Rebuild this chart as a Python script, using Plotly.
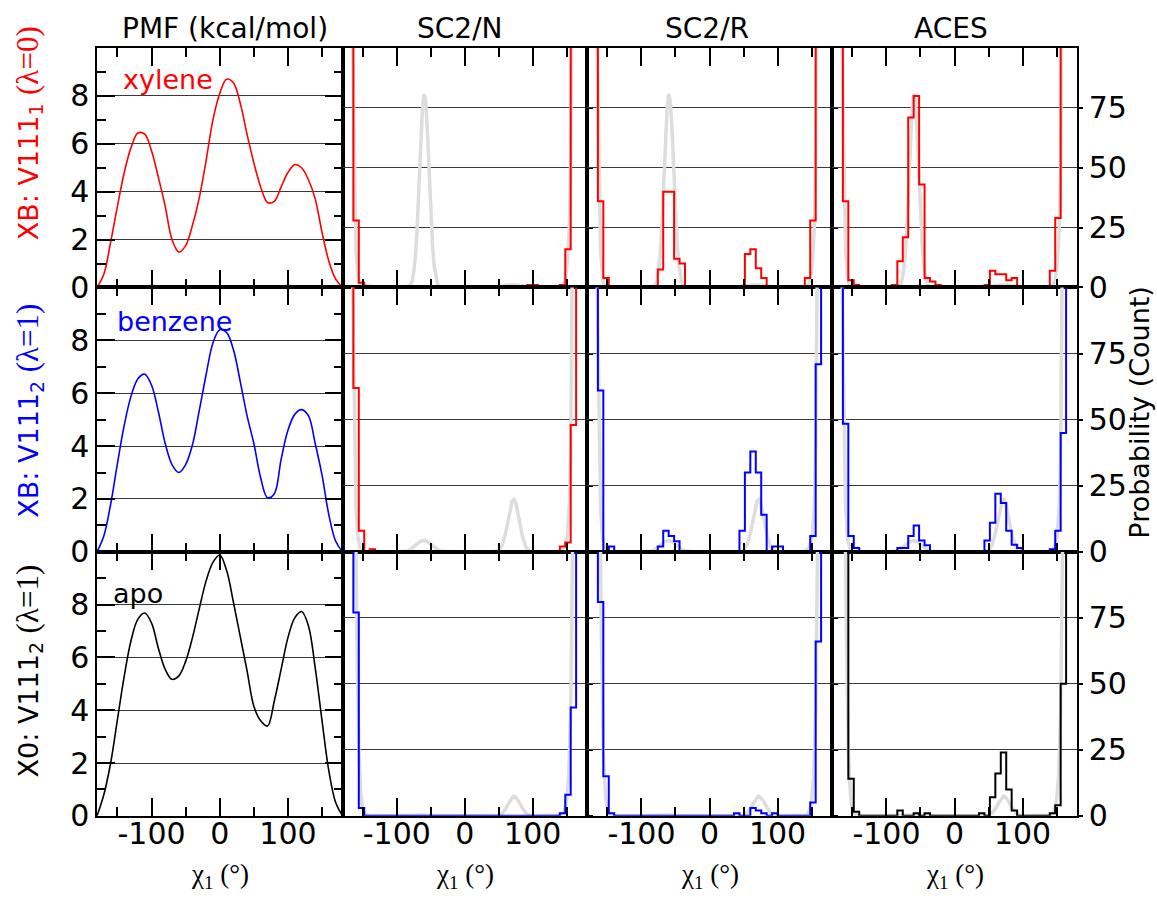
import plotly.graph_objects as go

# ---------------- data ----------------
chi_pmf = [-180, -170, -160, -150, -140, -130, -120, -110, -100, -90, -80, -70, -60, -50, -40,
           -30, -20, -10, 0, 10, 20, 30, 40, 50, 60, 70, 80, 90, 100, 110, 120, 130, 140, 150,
           160, 170, 180]
pmf_xylene = [0.0, 0.55, 1.9, 3.4, 4.8, 5.85, 6.45, 6.4, 5.7, 4.6, 3.4, 2.0, 1.48, 1.75, 2.6,
              3.75, 5.3, 7.0, 8.1, 8.7, 8.55, 7.7, 6.4, 5.2, 4.2, 3.55, 3.6, 4.2, 4.8, 5.13, 5.0,
              4.5, 3.7, 2.3, 1.1, 0.35, 0.0]
pmf_benzene = [0.0, 0.6, 1.8, 3.35, 4.8, 5.9, 6.55, 6.72, 6.3, 5.3, 4.1, 3.3, 3.0, 3.3, 4.05,
               5.35, 6.7, 7.9, 8.4, 8.3, 7.65, 6.45, 5.15, 4.1, 2.8, 2.05, 2.2, 3.5, 4.6, 5.2,
               5.38, 5.15, 4.1, 2.9, 1.4, 0.4, 0.0]
pmf_apo = [0.0, 0.8, 2.0, 3.65, 5.3, 6.65, 7.45, 7.68, 7.3, 6.35, 5.55, 5.17, 5.3, 5.85, 6.75,
           7.85, 8.9, 9.6, 9.88, 9.3, 8.1, 6.8, 5.5, 4.15, 3.6, 3.4, 4.35, 5.55, 6.75, 7.5, 7.74,
           7.2, 5.6, 3.6, 1.7, 0.5, 0.0]

# grey probability curves (one per row)
gray_xylene_x = [-180, -175, -170, -167, -165, -162, -160, -157, -155, -150, -145, -140, -100,
                 -90, -85, -80, -77.5, -75, -72.5, -70, -67.5, -65, -62.5, -60, -57.5, -55,
                 -52.5, -50, -47.5, -45, -42.5, -40, -37.5, -35, -30, 0, 40, 50, 60, 70, 80, 90,
                 100, 135, 140, 145, 148, 151, 154, 156, 158, 161, 165, 170, 180]
gray_xylene_y = [900, 500, 250, 150, 100, 35, 15, 4, 1, 0.1, 0, 0, 0,
                 0.1, 0.4, 1.0, 2.7, 6.5, 13.7, 25.4, 41.4, 59, 73.7, 80.8, 77.7, 65.4,
                 48.5, 31.4, 17.8, 8.9, 3.9, 1.5, 0.5, 0.15, 0, 0, 0, 0.3, 0.8, 1.1, 0.9, 0.3,
                 0, 0, 0.2, 1.2, 3, 10, 25, 55, 100, 200, 400, 700, 900]
gray_benzene_x = [-180, -175, -170, -165, -162, -160, -157, -154, -150, -145, -100, -90, -85,
                  -80, -75, -70, -65, -60, -55, -50, -45, -40, -35, -30, -20, 40, 45, 50, 55,
                  60, 65, 70, 72.5, 75, 80, 85, 90, 95, 100, 110, 135, 140, 145, 148, 151, 154,
                  156, 158, 161, 165, 170, 180]
gray_benzene_y = [900, 500, 250, 100, 40, 16, 5, 1.5, 0.3, 0, 0, 0.1, 0.3,
                  0.9, 1.8, 3.0, 4.0, 4.3, 3.9, 2.9, 1.7, 0.8, 0.3, 0.1, 0, 0, 0.1, 0.6, 2.4,
                  7.0, 13.9, 19.2, 19.8, 18.6, 12.4, 5.8, 1.9, 0.4, 0.05, 0, 0, 0.3, 1.2, 2.5, 6,
                  18, 40, 100, 200, 400, 700, 900]
gray_apo_x = [-180, -175, -170, -165, -162, -159, -156, -153, -150, -147, -143, -140, -100, -90,
              -80, -70, -60, -50, -40, 40, 50, 55, 60, 65, 70, 72, 75, 80, 85, 90, 95, 100, 110,
              135, 140, 145, 148, 150, 153, 156, 158, 160, 165, 170, 180]
gray_apo_y = [900, 700, 500, 250, 150, 70, 25, 8, 2, 0.5, 0.1, 0, 0, 0.1,
              0.25, 0.4, 0.35, 0.15, 0, 0, 0.2, 1.0, 2.6, 5.0, 7.1, 7.4, 7.0, 5.2, 2.8, 1.1, 0.3,
              0.05, 0, 0, 0.2, 1.0, 3, 6, 15, 40, 80, 130, 300, 600, 900]

# histogram bins (8 degree wide)
bin_edges = [-180, -172, -164, -156, -148, -140, -132, -124, -116, -108, -100, -92, -84, -76,
             -68, -60, -52, -44, -36, -28, -20, -12, -4, 4, 12, 20, 28, 36, 44, 52, 60, 68, 76,
             84, 92, 100, 108, 116, 124, 132, 140, 148, 156, 164, 172, 180]

hist_xylene_sc2n = [400, 300, 28, 2, 0.7, 0, 0, 0, 0,
                    0, 0, 0, 0, 0, 0, 0, 0, 0,
                    0, 0, 0, 0, 0, 0, 0, 0, 0,
                    0, 0, 0, 0, 0, 0, 0, 1, 1,
                    0, 0, 0, 0, 1, 16, 300, 400, 450]
hist_xylene_sc2r = [400, 300, 36, 4, 0, 0, 0, 0, 0,
                    0, 0, 0, 0, 7.5, 40, 40, 12, 10,
                    0, 0, 0, 0, 0, 0, 0, 0, 0,
                    0, 0, 14, 16, 8, 4, 0, 0, 0,
                    0, 0, 0, 0, 4, 28, 300, 400, 450]
hist_xylene_aces = [400, 300, 36, 3, 1, 0, 0, 0, 0,
                    0, 0, 1, 11, 21, 71, 80, 43, 4,
                    2.5, 1, 0, 0, 0, 0, 0, 0, 0,
                    0, 1, 7, 5.5, 5.5, 3, 4, 0, 0,
                    0, 0, 0, 0, 7, 29, 300, 400, 450]
hist_benzene_sc2n = [400, 300, 62, 8, 0, 1, 0, 0, 0,
                     0, 0, 0, 0, 0, 0, 0, 0, 0,
                     0, 0, 0, 0, 0, 0, 0, 0, 0,
                     0, 0, 0, 0, 0, 0, 0, 0, 0,
                     0, 0, 0, 0, 2, 3.5, 48, 300, 400]
hist_benzene_sc2r = [400, 300, 61, 0, 2, 0, 0, 0, 0,
                     0, 0, 0, 0, 2, 8, 6, 4, 0,
                     0, 0, 0, 0, 0, 0, 0, 0, 0,
                     0, 8, 30, 38, 30, 14, 0, 2, 2,
                     0, 0, 0, 0, 0, 6, 71, 300, 400]
hist_benzene_aces = [400, 300, 48.5, 6, 1.5, 0, 0, 0, 0,
                     0, 0, 0, 1.5, 1.5, 6, 10, 4.3, 2.5,
                     0, 0, 0, 0, 0, 0, 0, 0, 0,
                     0, 4.3, 11, 22, 18.5, 8, 2.7, 1.5, 0,
                     0, 0, 0, 0, 1, 8, 45, 300, 400]
hist_apo_sc2n = [400, 300, 77, 3, 0, 0, 0, 0, 0,
                 0, 0, 0, 0, 0, 0, 0, 0, 0,
                 0, 0, 0, 0, 0, 0, 0, 0, 0,
                 0, 0, 0, 0, 0, 0, 0, 0, 0,
                 0, 0, 0, 0, 1, 8, 41, 300, 400]
hist_apo_sc2r = [400, 300, 81, 15, 1, 0, 0, 0, 0,
                 0, 0, 0, 0, 0, 0, 0, 0, 0,
                 0, 0, 0, 0, 0, 0, 0, 0, 0,
                 1, 0, 0, 3, 2, 1, 0, 1, 0,
                 0, 0, 0, 0, 0, 5, 66, 300, 400]
hist_apo_aces = [400, 300, 300, 14, 1.5, 0, 0, 0, 0,
                 0, 0, 0, 2, 0, 0, 1, 0, 1,
                 0, 0, 0, 0, 0, 0, 0, 0, 0,
                 1, 0, 7, 16, 24, 10, 2, 0, 0,
                 0, 0, 0, 0, 1, 4, 50, 300, 400]

col_titles = ["PMF (kcal/mol)", "SC2/N", "SC2/R", "ACES"]
row_names = ["xylene", "benzene", "apo"]
row_labels = ["XB: V111<sub>1</sub> ", "XB: V111<sub>2</sub> ", "X0: V111<sub>2</sub> "]
row_lambda = ["(λ=0)", "(λ=1)", "(λ=1)"]
pmf_ticks = [0, 2, 4, 6, 8]
pmf_minor = [1, 3, 5, 7, 9]
count_ticks = [0, 25, 50, 75]
chi_ticks = [-100, 0, 100]
chi_ticktext = ["-100", "0", "100"]
chi_minor = [-150, -50, 50, 150]

# ---------------- styling / layout ----------------
W, H = 1157, 908
COLS = [(97, 342.5), (342.5, 587), (587, 832), (832, 1077)]
ROWS = [(49, 293.3), (293.3, 563), (563, 832.3)]
XLABEL_DROP = -3         # offset (px) of the x tick-label line relative to the bottom frame
SANS = "DejaVu Sans"
SERIF = "Liberation Serif"
RED, BLUE, BLACK, GRAY = "#ff0000", "#0000ff", "#000000", "#dddddd"
GRID = "#3a3a3a"
FRAME_W = 1.5


def fx(px):
    return px / W


def fy(py):
    return 1 - py / H


row_colors = [RED, BLUE, BLACK]
hist_colors = [[RED, RED, RED], [RED, BLUE, BLUE], [BLUE, BLUE, BLACK]]
pmf_data = [pmf_xylene, pmf_benzene, pmf_apo]
gray_data = [(gray_xylene_x, gray_xylene_y), (gray_benzene_x, gray_benzene_y),
             (gray_apo_x, gray_apo_y)]
hist_data = [[hist_xylene_sc2n, hist_xylene_sc2r, hist_xylene_aces],
             [hist_benzene_sc2n, hist_benzene_sc2r, hist_benzene_aces],
             [hist_apo_sc2n, hist_apo_sc2r, hist_apo_aces]]

fig = go.Figure()
layout_axes = {}

for r in range(3):
    for c in range(4):
        p = r * 4 + c + 1
        xs = f"x{p}"
        ys = f"y{p}"
        xdom = [fx(COLS[c][0]), fx(COLS[c][1])]
        ydom = [fy(ROWS[r][1]), fy(ROWS[r][0])]
        xa = dict(domain=xdom, anchor=ys, range=[-180, 180], showline=True, linecolor=BLACK,
                  linewidth=FRAME_W, mirror="ticks", ticks="inside", ticklen=18, tickwidth=1.5,
                  tickcolor=BLACK, tickvals=chi_ticks, ticktext=chi_ticktext,
                  minor=dict(tickvals=chi_minor, ticks="inside", ticklen=9, tickwidth=1.5,
                             tickcolor=BLACK, showgrid=False),
                  showgrid=False, zeroline=False, showticklabels=False)
        if c == 0:
            ya = dict(domain=ydom, anchor=xs, range=[0, 10], showline=True, linecolor=BLACK,
                      linewidth=FRAME_W, mirror="ticks", ticks="inside", ticklen=18,
                      tickwidth=1.5, tickcolor=BLACK, tickvals=pmf_ticks,
                      minor=dict(tickvals=pmf_minor, ticks="inside", ticklen=9, tickwidth=1.5,
                                 tickcolor=BLACK, showgrid=False),
                      showgrid=True, gridcolor=GRID, gridwidth=1, zeroline=False,
                      tickfont=dict(family=SANS, size=30, color=BLACK))
            fig.add_trace(go.Scatter(x=chi_pmf, y=pmf_data[r], mode="lines",
                                     line=dict(color=row_colors[r], width=1.6, shape="spline",
                                               smoothing=1.0),
                                     xaxis=xs, yaxis=ys, showlegend=False, hoverinfo="skip"))
        else:
            ya = dict(domain=ydom, anchor=xs, range=[0, 100], side="right", showline=True,
                      linecolor=BLACK, linewidth=FRAME_W, mirror=True, ticks="outside",
                      ticklen=4, tickwidth=1.5, tickcolor=BLACK, tickvals=count_ticks,
                      showgrid=True, gridcolor=GRID, gridwidth=1, zeroline=False,
                      showticklabels=(c == 3),
                      tickfont=dict(family=SANS, size=30, color=BLACK))
            gx, gy = gray_data[r]
            fig.add_trace(go.Scatter(x=gx, y=gy, mode="lines",
                                     line=dict(color=GRAY, width=3.5),
                                     xaxis=xs, yaxis=ys, showlegend=False, hoverinfo="skip"))
            counts = hist_data[r][c - 1]
            fig.add_trace(go.Scatter(x=bin_edges, y=counts + [counts[-1]], mode="lines",
                                     line=dict(color=hist_colors[r][c - 1], width=2,
                                               shape="hv"),
                                     xaxis=xs, yaxis=ys, showlegend=False, hoverinfo="skip"))
        layout_axes["xaxis" if p == 1 else f"xaxis{p}"] = xa
        layout_axes["yaxis" if p == 1 else f"yaxis{p}"] = ya

# label-only x axes under the bottom row
label_pos = fy(ROWS[2][1] + XLABEL_DROP)
for c in range(4):
    base = 9 + c
    q = 13 + c
    layout_axes[f"xaxis{q}"] = dict(overlaying=f"x{base}", anchor="free", position=label_pos,
                                    side="bottom", range=[-180, 180], tickvals=chi_ticks,
                                    ticktext=chi_ticktext, showline=False, ticks="",
                                    showgrid=False, zeroline=False,
                                    tickfont=dict(family=SANS, size=30, color=BLACK))
    fig.add_trace(go.Scatter(x=[0], y=[-50], mode="lines", xaxis=f"x{q}", yaxis=f"y{base}",
                             showlegend=False, hoverinfo="skip",
                             line=dict(color="rgba(0,0,0,0)")))

annotations = []
title_x = [225, 460, 707, 951]
for c in range(4):
    annotations.append(dict(text=col_titles[c], x=fx(title_x[c]), y=fy(29),
                            xref="paper", yref="paper", xanchor="center", yanchor="middle",
                            showarrow=False, font=dict(family=SANS, size=28, color=BLACK)))
    cx = (COLS[c][0] + COLS[c][1]) / 2
    annotations.append(dict(text="χ<sub>1</sub> (°)", x=fx(cx), y=fy(894),
                            xref="paper", yref="paper", xanchor="center", yanchor="middle",
                            showarrow=False, font=dict(family=SERIF, size=27, color=BLACK)))

name_pos = [(168, 81), (174, 328), (138, 605)]
label_y = [136, 419, 685]
for r in range(3):
    annotations.append(dict(text=row_names[r], x=fx(name_pos[r][0]), y=fy(name_pos[r][1]),
                            xref="paper", yref="paper", xanchor="center", yanchor="middle",
                            showarrow=False, font=dict(family=SANS, size=27, color=row_colors[r])))
    txt = (row_labels[r] + "<span style=\"font-family:'Liberation Serif';font-size:31px\">"
           + row_lambda[r] + "</span>")
    annotations.append(dict(text=txt, x=fx(29), y=fy(label_y[r]), textangle=-90,
                            xref="paper", yref="paper", xanchor="center", yanchor="middle",
                            showarrow=False, font=dict(family=SANS, size=27, color=row_colors[r])))

annotations.append(dict(text="Probability (Count)", x=fx(1140), y=fy(421), textangle=-90,
                        xref="paper", yref="paper", xanchor="center", yanchor="middle",
                        showarrow=False, font=dict(family=SANS, size=27, color=BLACK)))

fig.update_layout(width=W, height=H, margin=dict(l=0, r=0, t=0, b=0),
                  paper_bgcolor="white", plot_bgcolor="white", showlegend=False,
                  annotations=annotations, **layout_axes)

# make the page exactly the figure size (no default body margin, no scrolling)
page_css = ("document.documentElement.style.margin='0';"
            "document.documentElement.style.overflow='hidden';"
            "document.body.style.margin='0';"
            "document.body.style.overflow='hidden';"
            "document.body.style.width='1157px';"
            "document.body.style.height='908px';")
fig.write_html("out.html", post_script=page_css, config={"displayModeBar": False})
